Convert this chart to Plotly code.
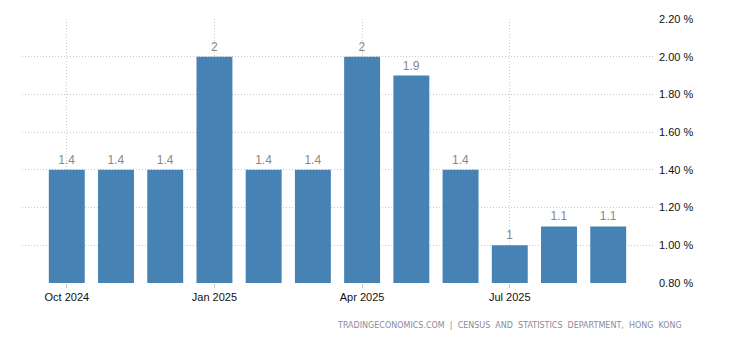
import plotly.graph_objects as go

months = ["Oct 2024", "Nov 2024", "Dec 2024", "Jan 2025", "Feb 2025", "Mar 2025",
          "Apr 2025", "May 2025", "Jun 2025", "Jul 2025", "Aug 2025", "Sep 2025"]
values = [1.4, 1.4, 1.4, 2.0, 1.4, 1.4, 2.0, 1.9, 1.4, 1.0, 1.1, 1.1]
tick_idx = [0, 3, 6, 9]
tick_labels = ["Oct 2024", "Jan 2025", "Apr 2025", "Jul 2025"]
y_ticks = [0.8, 1.0, 1.2, 1.4, 1.6, 1.8, 2.0, 2.2]
source = "TRADINGECONOMICS.COM  |  CENSUS  AND  STATISTICS  DEPARTMENT,  HONG  KONG"

x = list(range(len(months)))

fig = go.Figure(go.Bar(
    x=x, y=values,
    marker=dict(color="#4682B4", line=dict(width=0)),
    text=[f"{v:g}" for v in values],
    textposition="outside",
    textfont=dict(color="#888888", size=12, family="Liberation Sans, Arial"),
    cliponaxis=False,
    hovertext=months,
))

fig.update_layout(
    width=730, height=340,
    margin=dict(l=22, r=77, t=19, b=57),
    plot_bgcolor="white", paper_bgcolor="white",
    bargap=0.27,
    showlegend=False,
    font=dict(family="Liberation Sans, Arial", size=11, color="#111111"),
    xaxis=dict(
        range=[-0.91, 11.91],
        tickmode="array", tickvals=tick_idx, ticktext=tick_labels,
        showgrid=True, gridcolor="#c8c8c8", griddash="1px,2px", gridwidth=1,
        ticks="outside", ticklen=4, tickcolor="#c8c8c8",
        showline=False, zeroline=False,
        tickfont=dict(size=11, color="#111111"),
    ),
    yaxis=dict(
        range=[0.8, 2.2], side="right",
        tickmode="array", tickvals=y_ticks,
        ticktext=[f"{v:.2f} %" for v in y_ticks],
        showgrid=True, gridcolor="#c8c8c8", griddash="1px,2px", gridwidth=1,
        zeroline=False, showline=False,
        ticks="", ticklabelstandoff=5,
        tickfont=dict(size=11, color="#111111"),
    ),
    annotations=[dict(
        text=source, xref="paper", yref="paper",
        x=(684 - 22) / (730 - 22 - 77), y=-(325 - 283) / (283 - 19),
        xanchor="right", yanchor="middle", showarrow=False,
        font=dict(size=8, color="#8a8a99", family="DejaVu Sans"),
    )],
)

fig.write_html("out.html")
